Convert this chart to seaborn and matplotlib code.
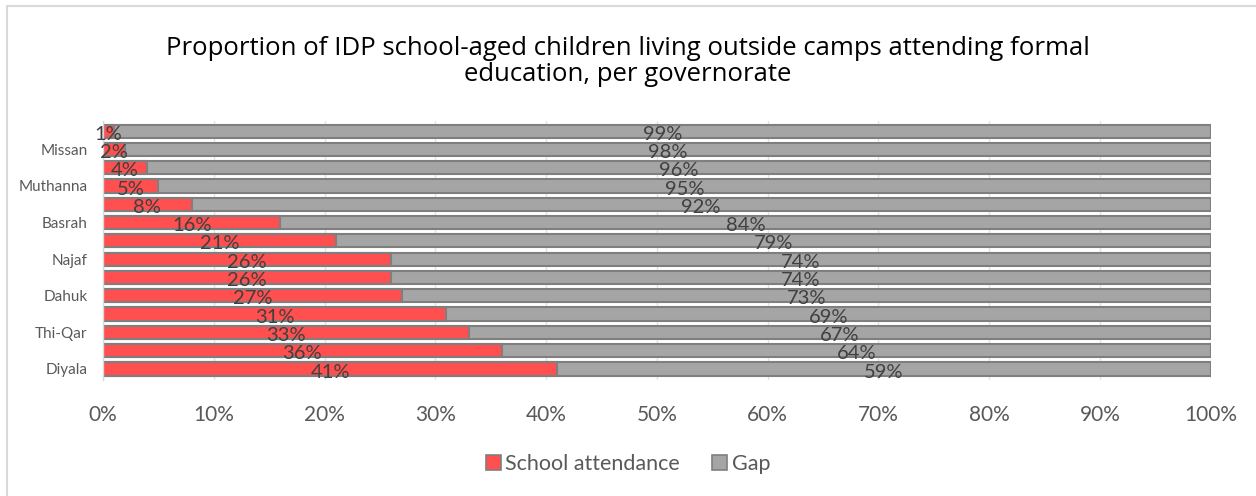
import matplotlib
matplotlib.use("Agg")
import matplotlib.pyplot as plt
import seaborn as sns
import pandas as pd
from matplotlib.patches import Rectangle, Patch

# ---- data (top to bottom) ----
row_ids = [f"r{i}" for i in range(14)]
tick_labels = ["", "Missan", "", "Muthanna", "", "Basrah", "", "Najaf",
               "", "Dahuk", "", "Thi-Qar", "", "Diyala"]
attendance = [1, 2, 4, 5, 8, 16, 21, 26, 26, 27, 31, 33, 36, 41]
gap = [99, 98, 96, 95, 92, 84, 79, 74, 74, 73, 69, 67, 64, 59]
x_ticks = [0, 10, 20, 30, 40, 50, 60, 70, 80, 90, 100]
x_tick_labels = [f"{v}%" for v in x_ticks]
title = "Proportion of IDP school-aged children living outside camps attending formal\neducation, per governorate"
series_names = ["School attendance", "Gap"]

RED = "#FF4F4F"
GRAY = "#A5A5A5"
EDGE = "#7F7F7F"
TXT = "#404040"

sns.set_theme(style="white")
plt.rcParams["font.family"] = ["Lato", "DejaVu Sans"]

df = pd.DataFrame({"row": row_ids, "att": attendance, "gap": gap})
df["total"] = df["att"] + df["gap"]

fig = plt.figure(figsize=(12.56, 4.96), dpi=100)
ax = fig.add_axes([0.082, 0.234, 0.882, 0.522])

sns.barplot(data=df, y="row", x="total", orient="h", color=GRAY, saturation=1,
            width=0.72, edgecolor=EDGE, linewidth=1.5, ax=ax, order=row_ids)
sns.barplot(data=df, y="row", x="att", orient="h", color=RED, saturation=1,
            width=0.72, edgecolor=EDGE, linewidth=1.5, ax=ax, order=row_ids)

for i, (a, g) in enumerate(zip(attendance, gap)):
    ax.text(a / 2, i + 0.17, f"{a}%", ha="center", va="center", fontsize=14.5, color=TXT)
    ax.text(a + g / 2, i + 0.17, f"{g}%", ha="center", va="center", fontsize=14.5, color=TXT)

ax.set_xlim(0, 100)
ax.set_ylim(13.6, -0.55)
ax.set_xticks(x_ticks)
ax.set_xticklabels(x_tick_labels, fontsize=15, color="#595959")
ax.set_yticks(range(len(row_ids)))
ax.set_yticklabels(tick_labels, fontsize=11, color="#595959")
ax.tick_params(axis="x", pad=18, length=0)
ax.tick_params(axis="y", pad=11, length=0)
ax.set_xlabel("")
ax.set_ylabel("")
ax.grid(axis="x", color="#E3E3E3", linewidth=1)
ax.set_axisbelow(True)
for s in ["top", "right", "bottom"]:
    ax.spines[s].set_visible(False)
ax.spines["left"].set_color("#D9D9D9")
ax.spines["left"].set_linewidth(1)

fig.text(0.5, 0.876, title, ha="center", va="center", fontsize=18.5,
         color="#000000", linespacing=1.1, family=["Open Sans", "DejaVu Sans"])

handles = [Patch(facecolor=RED, edgecolor=EDGE, linewidth=1.2),
           Patch(facecolor=GRAY, edgecolor=EDGE, linewidth=1.2)]
fig.legend(handles, series_names, loc="center", bbox_to_anchor=(0.5, 0.064),
           ncol=2, frameon=False, fontsize=15.5, handlelength=0.7, handleheight=0.7,
           handletextpad=0.2, columnspacing=1.5, labelcolor="#595959")

# outer chart border (only top/left visible in reference)
fig.patches.append(Rectangle((7 / 1256, -0.1), 1.2, 1 - 6 / 496 + 0.1,
                             transform=fig.transFigure, fill=False,
                             edgecolor="#D9D9D9", linewidth=1.5, zorder=-1))

fig.savefig("out.png", dpi=100, facecolor="white")
